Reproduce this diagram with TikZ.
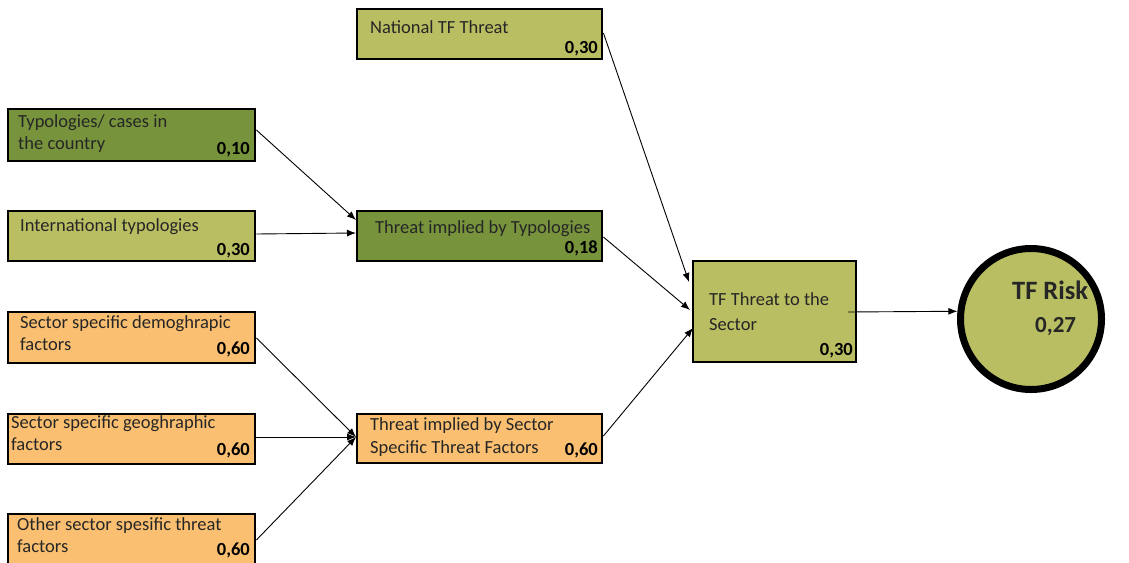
\documentclass[tikz,border=0pt]{standalone}
\usepackage{fontspec}
\setmainfont{Carlito}
\usetikzlibrary{calc,arrows.meta}
\definecolor{olivelight}{HTML}{B9BE62}
\definecolor{olivedark}{HTML}{77933C}
\definecolor{amber}{HTML}{FABF70}
\definecolor{ink}{HTML}{262626}
\tikzset{
  box/.style={draw=black, line width=2.4pt, anchor=north west, inner sep=0pt},
  lbl/.style={anchor=base west, inner sep=0pt, text=ink, font=\fontsize{18.5}{22}\selectfont},
  val/.style={anchor=base east, inner sep=0pt, text=black, font=\fontsize{18.5}{22}\selectfont\bfseries},
  link/.style={line width=0.9pt, draw=black, -{Latex[length=9pt,width=7pt]}},
}
\begin{document}
\begin{tikzpicture}[x=1pt,y=-1pt]
\clip (0,0) rectangle (1129,562);
\fill[white] (0,0) rectangle (1129,562);

% input boxes, left column
\node[box, fill=olivedark, minimum width=247pt, minimum height=52pt] (typ) at (7,108) {};
\node[box, fill=olivelight, minimum width=247pt, minimum height=50pt] (intl) at (7,210) {};
\node[box, fill=amber, minimum width=247pt, minimum height=51pt] (dem) at (7,311) {};
\node[box, fill=amber, minimum width=247pt, minimum height=50pt] (geo) at (7,413) {};
\node[box, fill=amber, minimum width=247pt, minimum height=64pt] (oth) at (7,513) {};

% intermediate boxes
\node[box, fill=olivelight, minimum width=245pt, minimum height=50pt] (nat) at (356,8) {};
\node[box, fill=olivedark, minimum width=245pt, minimum height=50pt] (thtyp) at (356,210) {};
\node[box, fill=amber, minimum width=245pt, minimum height=49pt] (thsec) at (356,413) {};

% sector threat and overall risk
\node[box, fill=olivelight, minimum width=163pt, minimum height=101pt] (sec) at (692,260) {};
\node[circle, draw=black, line width=7pt, fill=olivelight, minimum size=141pt, inner sep=0pt] (risk) at (1031,319) {};

% labels
\node[lbl] (typ-a) at (18,127) {Typologies/ cases in};
\node[lbl] (typ-b) at (18,149) {the country};
\node[val] (typ-v) at (250,154) {0,10};

\node[lbl] (intl-a) at (20,231) {International typologies};
\node[val] (intl-v) at (250,255) {0,30};

\node[lbl] (dem-a) at (20,328) {Sector specific demoghrapic};
\node[lbl] (dem-b) at (20,350) {factors};
\node[val] (dem-v) at (250,354) {0,60};

\node[lbl] (geo-a) at (11,428) {Sector specific geoghraphic};
\node[lbl] (geo-b) at (11,450) {factors};
\node[val] (geo-v) at (250,455) {0,60};

\node[lbl] (oth-a) at (17,530) {Other sector spesific threat};
\node[lbl] (oth-b) at (17,552) {factors};
\node[val] (oth-v) at (250,555) {0,60};

\node[lbl] (nat-a) at (370,33) {National TF Threat};
\node[val] (nat-v) at (598,53) {0,30};

\node[lbl] (thtyp-a) at (375,233) {Threat implied by Typologies};
\node[val] (thtyp-v) at (598,253) {0,18};

\node[lbl] (thsec-a) at (370,430) {Threat implied by Sector};
\node[lbl] (thsec-b) at (370,453) {Specific Threat Factors};
\node[val] (thsec-v) at (598,455) {0,60};

\node[lbl] (sec-a) at (709,305) {TF Threat to the};
\node[lbl] (sec-b) at (709,330) {Sector};
\node[val] (sec-v) at (853,355) {0,30};

\node[anchor=base west, inner sep=0pt, text=ink, font=\fontsize{26.5}{30}\selectfont\bfseries] (risk-a) at (1012,299) {TF Risk};
\node[anchor=base west, inner sep=0pt, text=ink, font=\fontsize{23}{30}\selectfont\bfseries] (risk-v) at (1035,332) {0,27};

% connectors
\draw[link] ($(typ.north east)+(0,22)$) -- ($(thtyp.north west)+(0,10)$);
\draw[link] ($(intl.north east)+(0,24)$) -- ($(thtyp.north west)+(0,23)$);
\draw[link] ($(dem.north east)+(0,27)$) -- ($(thsec.north west)+(0,24)$);
\draw[link] ($(geo.north east)+(0,24)$) -- ($(thsec.north west)+(0,24)$);
\draw[link] ($(oth.north east)+(0,27)$) -- ($(thsec.north west)+(0,24)$);
\draw[link] ($(nat.north east)+(0,25)$) -- ($(sec.north west)+(-3,22)$);
\draw[link] ($(thtyp.north east)+(0,27)$) -- ($(sec.north west)+(-2,50)$);
\draw[link] ($(thsec.north east)+(0,23)$) -- ($(sec.north west)+(1,68)$);
\draw[link] ($(sec.north west)+(156,52)$) -- (risk.174);
\end{tikzpicture}
\end{document}
